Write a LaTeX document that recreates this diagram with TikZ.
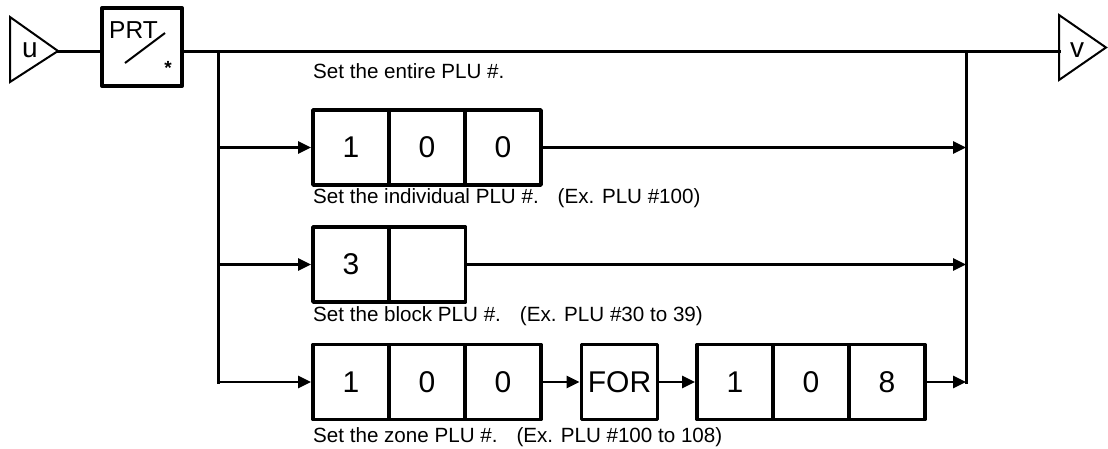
\documentclass[tikz,border=0pt]{standalone}
\usepackage{fontspec}
\setmainfont{Liberation Sans}
\usetikzlibrary{arrows.meta}
\begin{document}
\begin{tikzpicture}[x=1pt,y=-1pt,
  cellbox/.style={draw, line width=3.8pt, line join=round, minimum width=76pt, minimum height=75pt, inner sep=0pt, font=\fontsize{30}{30}\selectfont},
  lbl/.style={anchor=base west, inner sep=0pt, font=\fontsize{20.6}{20.6}\selectfont},
  bus/.style={line width=3pt, line cap=rect},
  arr/.style={line width=2.6pt, -{Triangle[length=13pt,width=12pt]}},
  tri/.style={line width=2pt, line join=miter}
]
\useasboundingbox (0,0) rectangle (1108,448);

% input triangle u
\coordinate (uTop) at (10,17);
\coordinate (uBot) at (10,82);
\coordinate (uApex) at (58,51);
\draw[tri] (uTop) -- (uApex) -- (uBot) -- cycle;
\node[inner sep=0pt, font=\fontsize{28}{28}\selectfont] (ulbl) at (30,50) {u};

% output triangle v
\coordinate (vTop) at (1059,15);
\coordinate (vBot) at (1059,80);
\coordinate (vApex) at (1106,47.5);
\draw[tri] (vTop) -- (vApex) -- (vBot) -- cycle;
\node[inner sep=0pt, font=\fontsize{28}{28}\selectfont] (vlbl) at (1077,50) {v};

% PRT key
\node[draw, line width=4pt, line join=round, minimum width=80pt, minimum height=78pt, inner sep=0pt] (prt) at (142,47) {};
\node[anchor=base west, inner sep=0pt, font=\fontsize{24.5}{24.5}\selectfont] (prtlbl) at (109,38.5) {PRT};
\draw[line width=2pt] (125,63) -- (165,33);
\node[anchor=base, inner sep=0pt, font=\fontsize{19}{19}\selectfont\bfseries] (star) at (168,74) {*};

% main line
\draw[bus] (uApex) -- (uApex -| prt.west);
\draw[bus] (prt.east |- uApex) -- (vTop |- uApex);

\coordinate (jL) at (218,51);
\coordinate (jR) at (966,51);

% row 1
\node[cellbox] (a1) at (351,147.5) {1};
\node[cellbox] (a2) at (427,147.5) {0};
\node[cellbox] (a3) at (503,147.5) {0};
% row 2
\node[cellbox] (b1) at (351,264.5) {3};
\node[cellbox] (b2) at (427.5,264.5) {};
% row 3
\node[cellbox] (c1) at (351,382) {1};
\node[cellbox] (c2) at (427,382) {0};
\node[cellbox] (c3) at (503,382) {0};
\node[cellbox] (f) at (619.5,382) {FOR};
\node[cellbox] (d1) at (735,382) {1};
\node[cellbox] (d2) at (811,382) {0};
\node[cellbox] (d3) at (887,382) {8};

% buses
\coordinate (lb3) at (jL |- c1.west);
\coordinate (rb3) at (jR |- d3.east);
\draw[bus] (jL) -- (lb3);
\draw[bus] (jR) -- (rb3);

% arrows
\draw[arr] (jL |- a1.west) -- (a1.west);
\draw[arr] (jL |- b1.west) -- (b1.west);
\draw[arr] (lb3) -- (c1.west);
\draw[arr] (c3.east) -- (f.west);
\draw[arr] (f.east) -- (d1.west);
\draw[arr] (a3.east) -- (a3.east -| jR);
\draw[arr] (b2.east) -- (b2.east -| jR);
\draw[arr] (d3.east) -- (rb3);

% labels
\node[lbl] (t0) at (313,78) {Set the entire PLU \#.};
\node[lbl] (t1) at (313,203) {Set the individual PLU \#.\hspace{19pt}(Ex. PLU \#100)};
\node[lbl] (t2) at (313,321) {Set the block PLU \#.\hspace{19pt}(Ex. PLU \#30 to 39)};
\node[lbl] (t3) at (313,442) {Set the zone PLU \#.\hspace{19pt}(Ex. PLU \#100 to 108)};
\end{tikzpicture}
\end{document}
